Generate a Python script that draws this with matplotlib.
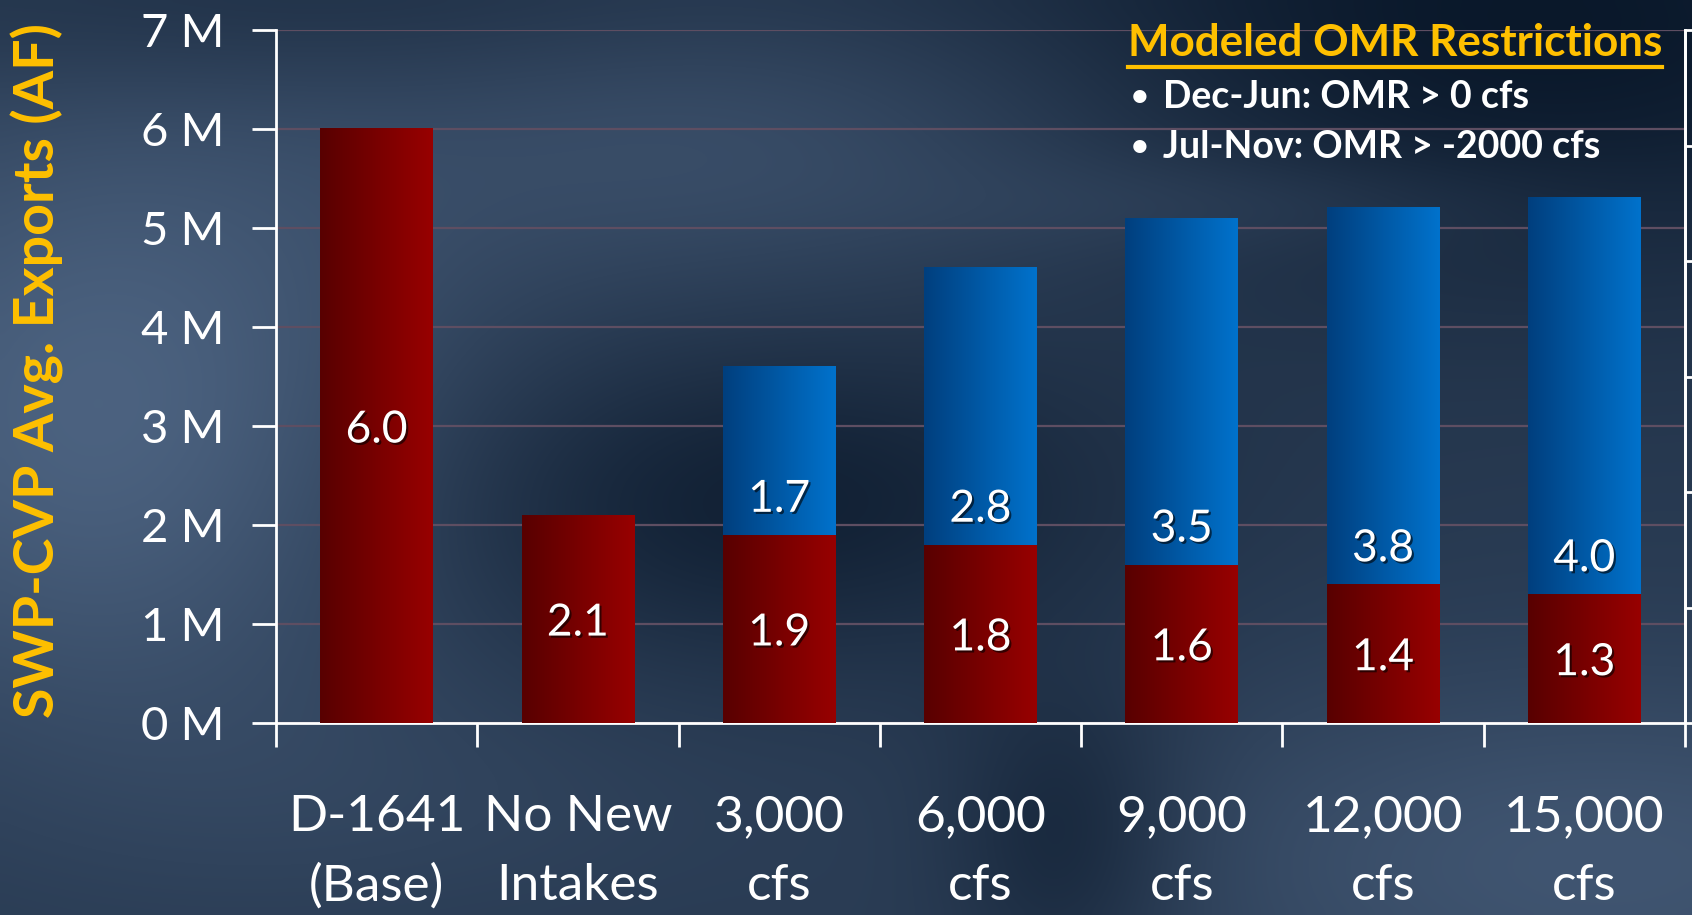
import numpy as np
import matplotlib.pyplot as plt
import matplotlib.patheffects as pe
from matplotlib.colors import LinearSegmentedColormap
from matplotlib.lines import Line2D

# chart data (million acre-feet)
categories = ['D-1641\n(Base)', 'No New\nIntakes', '3,000\ncfs', '6,000\ncfs',
              '9,000\ncfs', '12,000\ncfs', '15,000\ncfs']
south_exports = [6.0, 2.1, 1.9, 1.8, 1.6, 1.4, 1.3]   # red part
north_exports = [0.0, 0.0, 1.7, 2.8, 3.5, 3.8, 4.0]   # blue part
ytick_vals = [0, 1, 2, 3, 4, 5, 6, 7]
ytick_labels = ['0 M', '1 M', '2 M', '3 M', '4 M', '5 M', '6 M', '7 M']
ylabel = 'SWP-CVP Avg. Exports (AF)'
note_title = 'Modeled OMR Restrictions'
note_items = ['Dec-Jun: OMR > 0 cfs', 'Jul-Nov: OMR > -2000 cfs']

plt.rcParams['font.family'] = ['Lato', 'DejaVu Sans']
GOLD = '#ffc000'

fig = plt.figure(figsize=(16.92, 9.15), dpi=100)

# background: dark blue slide texture
bg = fig.add_axes([0, 0, 1, 1], zorder=-5)
H, W = 120, 220
yy, xx = np.mgrid[0:1:H * 1j, 0:1:W * 1j]
def blob(cx, cy, sx, sy, a):
    return a * np.exp(-((xx - cx) ** 2 / (2 * sx ** 2) + (yy - cy) ** 2 / (2 * sy ** 2)))
f = 0.4 + blob(0.06, 0.45, 0.14, 0.25, 0.45) + blob(0.95, 0.95, 0.2, 0.15, 0.3) \
    + blob(0.45, 0.15, 0.18, 0.12, 0.25) - blob(0.45, 0.55, 0.15, 0.12, 0.28) \
    - blob(0.9, 0.02, 0.25, 0.2, 0.38) - blob(0.15, 0.0, 0.2, 0.08, 0.15) \
    + blob(0.75, 0.22, 0.12, 0.04, 0.12) - blob(0.63, 0.92, 0.05, 0.12, 0.25) \
    + blob(0.25, 0.88, 0.15, 0.1, 0.08)
f = np.clip(f, 0, 1)
dark = np.array([0x08, 0x16, 0x28]) / 255
light = np.array([0x58, 0x70, 0x90]) / 255
img = dark + f[..., None] * (light - dark)
bg.imshow(img, aspect='auto', interpolation='bicubic', extent=(0, 1, 0, 1))
bg.set_axis_off()

ax = fig.add_axes([0.1631, 0.2098, 0.8328, 0.7574])
ax.set_facecolor('none')

x = np.arange(len(categories))
w = 0.56
red_bars = ax.bar(x, south_exports, w, color='none', zorder=3)
blue_bars = ax.bar(x, north_exports, w, bottom=south_exports, color='none', zorder=3)

def gradient_fill(bars, c0, c1):
    cmap = LinearSegmentedColormap.from_list('g', [c0, c1])
    grad = np.linspace(0, 1, 128).reshape(1, -1)
    for b in bars:
        if b.get_height() <= 0:
            continue
        x0, y0 = b.get_x(), b.get_y()
        ax.imshow(grad, cmap=cmap, aspect='auto', zorder=3, interpolation='bilinear',
                  extent=(x0, x0 + b.get_width(), y0, y0 + b.get_height()))

gradient_fill(red_bars, '#580000', '#980000')
gradient_fill(blue_bars, '#003f7e', '#0072cc')

shadow = [pe.withSimplePatchShadow(offset=(1.5, -1.5), shadow_rgbFace='black', alpha=0.6)]
for i in range(len(categories)):
    ax.text(x[i], south_exports[i] / 2, f'{south_exports[i]:.1f}', ha='center',
            va='center_baseline', color='white', fontsize=32, zorder=5, path_effects=shadow)
    if north_exports[i] > 0:
        ax.text(x[i], south_exports[i] + 0.4, f'{north_exports[i]:.1f}', ha='center',
                va='center_baseline', color='white', fontsize=32, zorder=5,
                path_effects=shadow)

ax.set_xlim(-0.5, len(categories) - 0.5)
ax.set_ylim(0, 7)
ax.set_yticks(ytick_vals)
ax.set_yticklabels(ytick_labels)
ax.yaxis.grid(True, color='#5e4e62', lw=1.6, zorder=1)
ax.set_axisbelow(True)

ax.set_xticks(np.arange(len(categories) + 1) - 0.5)
ax.set_xticklabels([])
ax.set_xticks(x, minor=True)
ax.set_xticklabels(categories, minor=True, linespacing=1.62)
ax.tick_params(axis='x', which='major', length=17, width=2, color='white', direction='out')
ax.tick_params(axis='x', which='minor', length=0, pad=51, labelsize=37, labelcolor='white')
ax.tick_params(axis='y', length=17, width=2, color='white', pad=20, labelsize=34,
               labelcolor='white')

ax.spines['top'].set_visible(False)
for s in ['left', 'bottom', 'right']:
    ax.spines[s].set_color('white')
    ax.spines[s].set_linewidth(2)

# secondary axis on the right (labels fall outside the slide)
ax2 = ax.twinx()
ax2.set_ylim(0, 6)
ax2.set_yticks(range(7))
ax2.set_yticklabels([])
ax2.tick_params(axis='y', length=17, width=2, color='white')
for s in ['top', 'left', 'bottom']:
    ax2.spines[s].set_visible(False)
ax2.spines['right'].set_color('white')
ax2.spines['right'].set_linewidth(2)

fig.text(0.022, 0.595, ylabel, rotation=90, ha='center', va='center', color=GOLD,
         fontsize=40, fontweight='bold')

t = fig.text(0.6667, 1 - 43 / 915, note_title, ha='left', va='center', color=GOLD,
             fontsize=31.7, fontweight='bold')
for k, item in enumerate(note_items):
    yk = 1 - (97 + 50 * k) / 915
    fig.text(0.6685, yk, '\u2022', ha='left', va='center', color='white', fontsize=22,
             fontweight='bold')
    fig.text(0.6875, yk, item, ha='left', va='center', color='white', fontsize=27,
             fontweight='bold')

fig.canvas.draw()
bb = t.get_window_extent().transformed(fig.transFigure.inverted())
fig.add_artist(Line2D([bb.x0, bb.x1], [bb.y0 - 0.004, bb.y0 - 0.004], color=GOLD, lw=3,
                      transform=fig.transFigure))

fig.savefig('out.png', dpi=100)
